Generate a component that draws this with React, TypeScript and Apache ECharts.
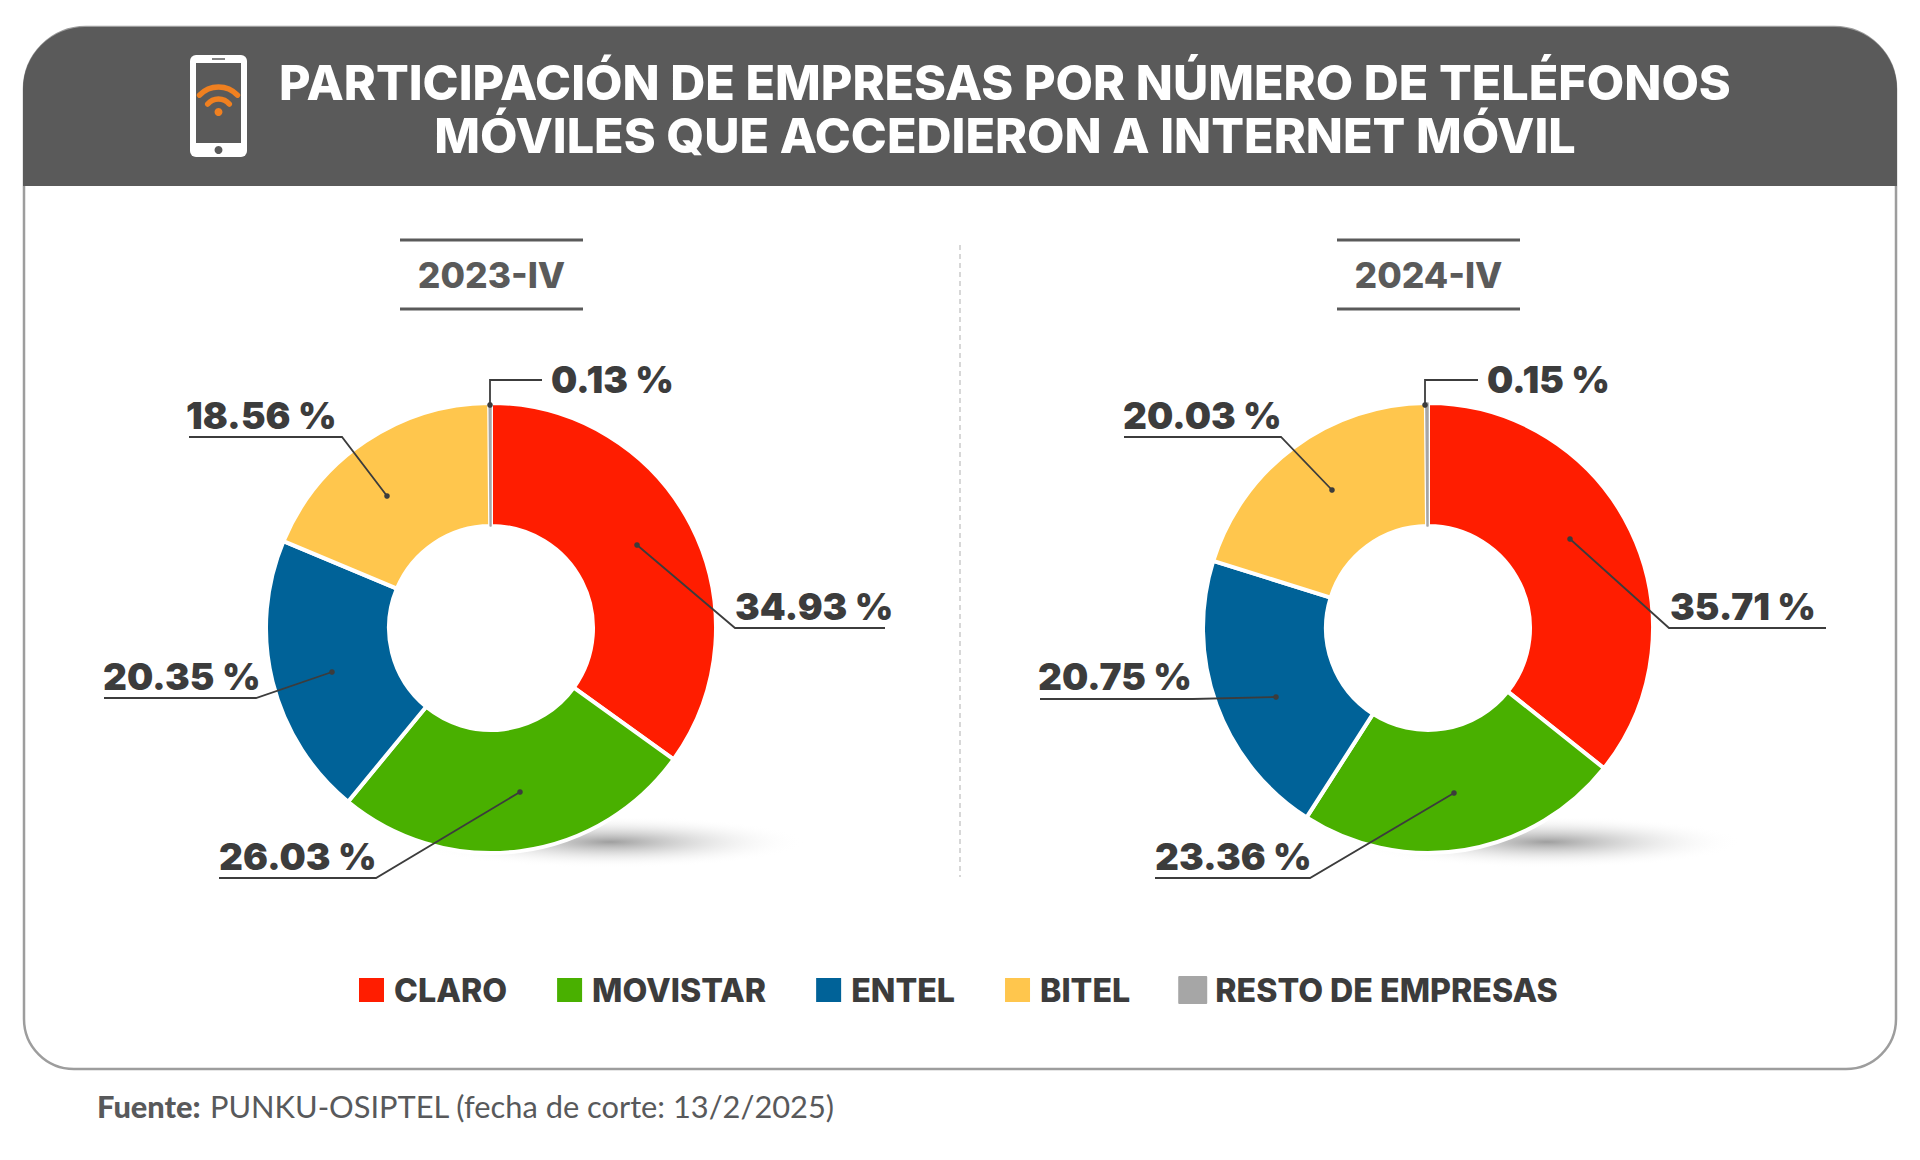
import React, { useEffect, useRef } from "react";
import * as echarts from "echarts";

const companies = ["CLARO", "MOVISTAR", "ENTEL", "BITEL", "RESTO DE EMPRESAS"];
const colors = ["#ff1d00", "#49b000", "#006298", "#ffc64d", "#a6a6a6"];
const values2023 = [34.93, 26.03, 20.35, 18.56, 0.13];
const values2024 = [35.71, 23.36, 20.75, 20.03, 0.15];
const periods = ["2023-IV", "2024-IV"];
const titleLines = [
  "PARTICIPACIÓN DE EMPRESAS POR NÚMERO DE TELÉFONOS",
  "MÓVILES QUE ACCEDIERON A INTERNET MÓVIL",
];

const FONT = "Inter";
const DARK = "#3c3c3c";
const HEADER = "#5a5a5a";

// label anchors [x, y] per slice
const labels2023 = [[735, 606], [219, 856], [103, 676], [186, 415], [551, 379]];
const labels2024 = [[1670, 606], [1155, 856], [1038, 676], [1123, 415], [1487, 379]];
// leader lines: dot, elbow, end of underline
const leaders2023 = [
  [[637, 545], [735, 628], [885, 628]],
  [[520, 792], [376, 878], [219, 878]],
  [[332, 672], [256, 698], [104, 698]],
  [[387, 496], [342, 437], [189, 437]],
  [[490, 405], [490, 380], [542, 380]],
];
const leaders2024 = [
  [[1570, 539], [1669, 628], [1826, 628]],
  [[1454, 793], [1310, 878], [1155, 878]],
  [[1276, 697], [1193, 699], [1040, 699]],
  [[1332, 490], [1281, 437], [1124, 437]],
  [[1425, 405], [1425, 380], [1478, 380]],
];

function pieSeries(values: number[], cx: number, anchors: number[][]) {
  return {
    type: "pie",
    center: [cx, 628],
    radius: [102, 225],
    startAngle: 90,
    clockwise: true,
    avoidLabelOverlap: false,
    silent: true,
    z: 2,
    itemStyle: { borderColor: "#ffffff", borderWidth: 4 },
    labelLine: { show: false },
    label: {
      show: true,
      position: "outside",
      formatter: (p: any) => `${p.value.toFixed(2)} %`,
      fontFamily: FONT,
      fontWeight: 900,
      fontSize: 37,
      color: DARK,
    },
    labelLayout: (p: any) => ({
      x: anchors[p.dataIndex][0],
      y: anchors[p.dataIndex][1],
      align: "left",
      verticalAlign: "middle",
    }),
    data: companies.map((name, i) => ({
      name,
      value: values[i],
      itemStyle:
        i === companies.length - 1
          ? { color: colors[i], borderColor: colors[i], borderWidth: 1.5 }
          : { color: colors[i] },
    })),
  };
}

function leaderGraphics(list: number[][][]) {
  const out: any[] = [];
  list.forEach((pts) => {
    out.push({
      type: "polyline",
      z: 10,
      shape: { points: pts },
      style: { fill: "none", stroke: DARK, lineWidth: 1.8 },
    });
    out.push({
      type: "circle",
      z: 10,
      shape: { cx: pts[0][0], cy: pts[0][1], r: 2.8 },
      style: { fill: DARK },
    });
  });
  return out;
}

function shadow(cx: number) {
  return {
    type: "ellipse",
    z: 1,
    shape: { cx, cy: 842, rx: 195, ry: 26 },
    style: {
      fill: new echarts.graphic.RadialGradient(0.5, 0.5, 0.5, [
        { offset: 0, color: "rgba(80,80,80,0.55)" },
        { offset: 0.5, color: "rgba(140,140,140,0.22)" },
        { offset: 1, color: "rgba(255,255,255,0)" },
      ]),
    },
  };
}

function periodBlock(label: string, x0: number, x1: number) {
  const lineStyle = { stroke: HEADER, lineWidth: 3 };
  return [
    { type: "line", z: 1, shape: { x1: x0, y1: 240, x2: x1, y2: 240 }, style: lineStyle },
    { type: "line", z: 1, shape: { x1: x0, y1: 309, x2: x1, y2: 309 }, style: lineStyle },
    {
      type: "text",
      z: 1,
      style: {
        text: label,
        x: (x0 + x1) / 2,
        y: 275,
        align: "center",
        verticalAlign: "middle",
        fontFamily: FONT,
        fontWeight: 800,
        fontSize: 35.5,
        fill: HEADER,
      },
    },
  ];
}

function phoneIcon() {
  const orange = "#f08020";
  return [
    { type: "rect", z: 1, shape: { x: 190, y: 55, width: 57, height: 102, r: 6 }, style: { fill: "#ffffff" } },
    { type: "rect", z: 1, shape: { x: 196, y: 63, width: 45, height: 80 }, style: { fill: HEADER } },
    { type: "circle", z: 1, shape: { cx: 218.5, cy: 150, r: 4 }, style: { fill: HEADER } },
    { type: "line", z: 1, shape: { x1: 212, y1: 59, x2: 225, y2: 59 }, style: { stroke: HEADER, lineWidth: 1.5 } },
    { type: "arc", z: 1, shape: { cx: 218.5, cy: 113, r: 26, startAngle: -Math.PI * 0.76, endAngle: -Math.PI * 0.24 }, style: { fill: "none", stroke: orange, lineWidth: 5.5, lineCap: "round" } },
    { type: "arc", z: 1, shape: { cx: 218.5, cy: 113, r: 14, startAngle: -Math.PI * 0.78, endAngle: -Math.PI * 0.22 }, style: { fill: "none", stroke: orange, lineWidth: 5.5, lineCap: "round" } },
    { type: "circle", z: 1, shape: { cx: 218.5, cy: 112, r: 4 }, style: { fill: orange } },
  ];
}

export default function App() {
  const ref = useRef<HTMLDivElement>(null);
  useEffect(() => {
    if (!ref.current) return;
    document.body.style.margin = "0";
    const chart = echarts.init(ref.current, undefined, { renderer: "svg" });
    chart.setOption({
      animation: false,
      backgroundColor: "#ffffff",
      legend: {
        show: true,
        data: companies,
        left: 352,
        top: 969,
        icon: "rect",
        itemWidth: 27,
        itemHeight: 26,
        itemGap: 48,
        selectedMode: false,
        textStyle: {
          fontFamily: FONT,
          fontWeight: 800,
          fontSize: 32.2,
          color: DARK,
          padding: [0, 0, 0, 4],
        },
      },
      series: [
        pieSeries(values2023, 491, labels2023),
        pieSeries(values2024, 1428, labels2024),
      ],
      graphic: {
        elements: [
          {
            type: "rect",
            z: 0,
            shape: { x: 24, y: 27, width: 1872, height: 1042, r: [62, 62, 50, 50] },
            style: { fill: "#ffffff", stroke: "#9d9d9d", lineWidth: 2.5 },
          },
          {
            type: "rect",
            z: 0,
            shape: { x: 23, y: 27, width: 1874, height: 159, r: [62, 62, 0, 0] },
            style: { fill: HEADER },
          },
          ...phoneIcon(),
          {
            type: "text",
            z: 1,
            style: {
              text: titleLines.join("\n"),
              x: 1005,
              y: 109,
              align: "center",
              verticalAlign: "middle",
              lineHeight: 52.5,
              fontFamily: FONT,
              fontWeight: 800,
              fontSize: 48.5,
              fill: "#ffffff",
            },
          },
          ...periodBlock(periods[0], 400, 583),
          ...periodBlock(periods[1], 1337, 1520),
          {
            type: "line",
            z: 1,
            shape: { x1: 960, y1: 245, x2: 960, y2: 877 },
            style: { stroke: "#bdbdbd", lineWidth: 1.2, lineDash: [5, 4] },
          },
          shadow(610),
          shadow(1547),
          ...leaderGraphics(leaders2023),
          ...leaderGraphics(leaders2024),
          {
            type: "text",
            z: 1,
            style: {
              x: 97,
              y: 1106,
              verticalAlign: "middle",
              text: "{b|Fuente:} {r|PUNKU-OSIPTEL (fecha de corte: 13/2/2025)}",
              rich: {
                b: { fontFamily: "Lato", fontWeight: 900, fontSize: 30.8, fill: "#58595b", padding: [0, 6, 0, 0] },
                r: { fontFamily: "Lato", fontWeight: 400, fontSize: 30.8, fill: "#58595b" },
              },
            },
          },
        ],
      },
    });
    return () => chart.dispose();
  }, []);
  return <div ref={ref} style={{ position: "absolute", left: 0, top: 0, width: 1920, height: 1160 }} />;
}
